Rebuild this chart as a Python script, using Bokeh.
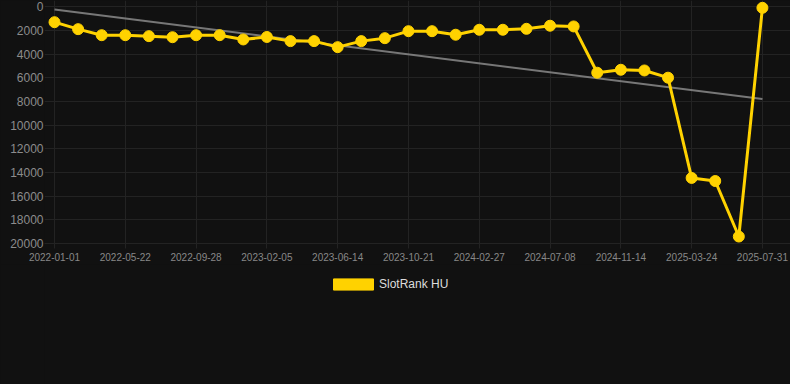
from bokeh.plotting import figure
from bokeh.layouts import column
from bokeh.models import Range1d, FixedTicker, Legend, LegendItem, GlobalInlineStyleSheet
from bokeh.embed import file_html
from bokeh.resources import INLINE

# x-axis tick labels (every 3rd observation)
tick_labels = ["2022-01-01", "2022-05-22", "2022-09-28", "2023-02-05", "2023-06-14",
               "2023-10-21", "2024-02-27", "2024-07-08", "2024-11-14", "2025-03-24",
               "2025-07-31"]
# SlotRank HU series (rank, lower is better; axis inverted)
ranks = [1300, 1890, 2400, 2400, 2480, 2570, 2400, 2400, 2760, 2550,
         2900, 2900, 3410, 2900, 2650, 2060, 2060, 2360, 1940, 1940,
         1860, 1600, 1660, 5570, 5320, 5380, 5990, 14460, 14720, 19410,
         85]
# trend line end values
trend = [230, 7800]
y_ticks = [0, 2000, 4000, 6000, 8000, 10000, 12000, 14000, 16000, 18000, 20000]
series_name = "SlotRank HU"

idx = list(range(len(ranks)))
tick_idx = idx[::3]

BG = "#111111"
GRID = "#232323"
YELLOW = "#FFD200"

p = figure(width=790, height=264, output_backend="svg", toolbar_location=None,
           x_range=Range1d(-0.424, 31.19), y_range=Range1d(20000, -532),
           min_border_left=44, min_border_right=0, min_border_top=0, min_border_bottom=21,
           background_fill_color=BG, border_fill_color=BG, outline_line_color=None)

p.xaxis.ticker = FixedTicker(ticks=tick_idx)
p.xgrid.ticker = FixedTicker(ticks=tick_idx)
p.xaxis.major_label_overrides = {i: lab for i, lab in zip(tick_idx, tick_labels)}
p.yaxis.ticker = FixedTicker(ticks=y_ticks)
p.ygrid.ticker = FixedTicker(ticks=y_ticks)

p.xgrid.grid_line_color = GRID
p.ygrid.grid_line_color = GRID

p.xaxis.axis_line_color = GRID
p.xaxis.major_tick_line_color = GRID
p.xaxis.major_tick_out = 5
p.xaxis.major_tick_in = 0
p.xaxis.minor_tick_line_color = None
p.xaxis.major_label_standoff = 4
p.xaxis.major_label_text_font_size = "10px"
p.xaxis.major_label_text_font = "Liberation Sans"
p.xaxis.major_label_text_color = "#888888"

p.yaxis.axis_line_color = None
p.yaxis.major_tick_line_color = None
p.yaxis.minor_tick_line_color = None
p.yaxis.major_tick_out = 0
p.yaxis.major_tick_in = 0
p.yaxis.major_label_standoff = 1
p.yaxis.major_label_text_font_size = "12px"
p.yaxis.major_label_text_font = "Liberation Sans"
p.yaxis.major_label_text_color = "#8c8c8c"

p.line([idx[0], idx[-1]], trend, line_color="#8a8a8a", line_width=2, line_alpha=0.85)
p.line(idx, ranks, line_color=YELLOW, line_width=3)
p.scatter(idx, ranks, size=11, fill_color=YELLOW, line_color=YELLOW)

# legend strip below the chart
lg = figure(width=790, height=120, output_backend="svg", toolbar_location=None,
            x_range=Range1d(0, 790), y_range=Range1d(0, 120),
            x_axis_location=None, y_axis_location=None,
            min_border_left=0, min_border_right=0, min_border_top=0, min_border_bottom=0,
            background_fill_color=BG, border_fill_color=BG, outline_line_color=None)
lg.grid.visible = False
# legend proxy glyph kept outside the visible range
swatch = lg.quad(left=[-20], right=[-10], top=[-10], bottom=[-20],
                 fill_color=YELLOW, line_color=YELLOW)
legend = Legend(items=[LegendItem(label=series_name, renderers=[swatch])],
                location=(284, 93), orientation="horizontal",
                border_line_color=None, background_fill_alpha=0,
                label_text_color="#dddddd", label_text_font_size="12px",
                label_text_font="Liberation Sans",
                glyph_width=50, glyph_height=14, padding=0, margin=0,
                label_standoff=1, spacing=0)
lg.add_layout(legend, "center")

page = column(p, lg, spacing=0,
              stylesheets=[GlobalInlineStyleSheet(css="body{background:#111111;}")])

open("out.html", "w").write(file_html(page, INLINE))
